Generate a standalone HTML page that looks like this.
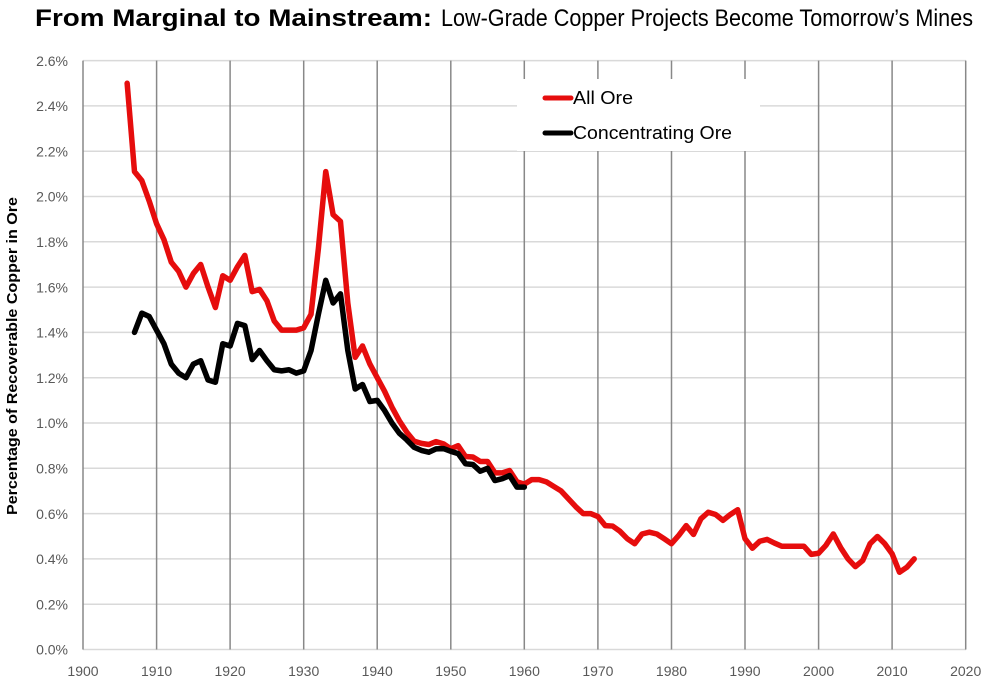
<!DOCTYPE html>
<html>
<head>
<meta charset="utf-8">
<style>
html,body{margin:0;padding:0;background:#fff;}
svg{display:block;}
text{font-family:"Liberation Sans",sans-serif;}
</style>
</head>
<body>
<svg width="986" height="682" viewBox="0 0 986 682" xmlns="http://www.w3.org/2000/svg">
<rect x="0" y="0" width="986" height="682" fill="#fff"/>
<!-- Title -->
<text x="35" y="26" font-size="24" font-weight="bold" fill="#000" textLength="397" lengthAdjust="spacingAndGlyphs">From Marginal to Mainstream:</text>
<text x="441" y="26" font-size="24" fill="#000" textLength="532" lengthAdjust="spacingAndGlyphs">Low-Grade Copper Projects Become Tomorrow’s Mines</text>

<!-- horizontal gridlines -->
<g stroke="#d9d9d9" stroke-width="1.5">
<line x1="83" y1="60.6" x2="966" y2="60.6"/>
<line x1="83" y1="105.9" x2="966" y2="105.9"/>
<line x1="83" y1="151.2" x2="966" y2="151.2"/>
<line x1="83" y1="196.5" x2="966" y2="196.5"/>
<line x1="83" y1="241.8" x2="966" y2="241.8"/>
<line x1="83" y1="287.1" x2="966" y2="287.1"/>
<line x1="83" y1="332.4" x2="966" y2="332.4"/>
<line x1="83" y1="377.7" x2="966" y2="377.7"/>
<line x1="83" y1="423" x2="966" y2="423"/>
<line x1="83" y1="468.3" x2="966" y2="468.3"/>
<line x1="83" y1="513.6" x2="966" y2="513.6"/>
<line x1="83" y1="558.9" x2="966" y2="558.9"/>
<line x1="83" y1="604.2" x2="966" y2="604.2"/>
<line x1="83" y1="649.5" x2="966" y2="649.5"/>
</g>
<!-- vertical gridlines -->
<g stroke="#888" stroke-width="1.5">
<line x1="83" y1="60.6" x2="83" y2="649.5"/>
<line x1="156.6" y1="60.6" x2="156.6" y2="649.5"/>
<line x1="230.1" y1="60.6" x2="230.1" y2="649.5"/>
<line x1="303.7" y1="60.6" x2="303.7" y2="649.5"/>
<line x1="377.2" y1="60.6" x2="377.2" y2="649.5"/>
<line x1="450.8" y1="60.6" x2="450.8" y2="649.5"/>
<line x1="524.3" y1="60.6" x2="524.3" y2="649.5"/>
<line x1="597.9" y1="60.6" x2="597.9" y2="649.5"/>
<line x1="671.5" y1="60.6" x2="671.5" y2="649.5"/>
<line x1="745" y1="60.6" x2="745" y2="649.5"/>
<line x1="818.6" y1="60.6" x2="818.6" y2="649.5"/>
<line x1="892.1" y1="60.6" x2="892.1" y2="649.5"/>
<line x1="965.7" y1="60.6" x2="965.7" y2="649.5"/>
</g>

<!-- Y tick labels -->
<g font-size="14" fill="#595959" text-anchor="end">
<text x="68" y="65.8">2.6%</text>
<text x="68" y="111.1">2.4%</text>
<text x="68" y="156.4">2.2%</text>
<text x="68" y="201.7">2.0%</text>
<text x="68" y="247">1.8%</text>
<text x="68" y="292.3">1.6%</text>
<text x="68" y="337.6">1.4%</text>
<text x="68" y="382.9">1.2%</text>
<text x="68" y="428.2">1.0%</text>
<text x="68" y="473.5">0.8%</text>
<text x="68" y="518.8">0.6%</text>
<text x="68" y="564.1">0.4%</text>
<text x="68" y="609.4">0.2%</text>
<text x="68" y="654.7">0.0%</text>
</g>
<!-- X tick labels -->
<g font-size="14" fill="#595959" text-anchor="middle">
<text x="83" y="676">1900</text>
<text x="156.6" y="676">1910</text>
<text x="230.1" y="676">1920</text>
<text x="303.7" y="676">1930</text>
<text x="377.2" y="676">1940</text>
<text x="450.8" y="676">1950</text>
<text x="524.3" y="676">1960</text>
<text x="597.9" y="676">1970</text>
<text x="671.5" y="676">1980</text>
<text x="745" y="676">1990</text>
<text x="818.6" y="676">2000</text>
<text x="892.1" y="676">2010</text>
<text x="965.7" y="676">2020</text>
</g>

<!-- Y axis title -->
<text transform="translate(17,356) rotate(-90)" font-size="15" font-weight="bold" fill="#000" text-anchor="middle" textLength="318" lengthAdjust="spacingAndGlyphs">Percentage of Recoverable Copper in Ore</text>

<!-- Series -->
<g transform="translate(83,649.5) scale(7.3558,-226.5) translate(-1900,0)">
<polyline fill="none" stroke="#e60d0d" stroke-width="5.5" stroke-linejoin="round" stroke-linecap="round" vector-effect="non-scaling-stroke" points="1906,2.50 1907,2.11 1908,2.07 1909,1.98 1910,1.88 1911,1.81 1912,1.71 1913,1.67 1914,1.60 1915,1.66 1916,1.70 1917,1.60 1918,1.51 1919,1.65 1920,1.63 1921,1.69 1922,1.74 1923,1.58 1924,1.59 1925,1.54 1926,1.45 1927,1.41 1928,1.41 1929,1.41 1930,1.42 1931,1.48 1932,1.77 1933,2.11 1934,1.92 1935,1.89 1936,1.53 1937,1.29 1938,1.34 1939,1.26 1940,1.20 1941,1.14 1942,1.07 1943,1.01 1944,0.96 1945,0.92 1946,0.91 1947,0.905 1948,0.918 1949,0.908 1950,0.886 1951,0.90 1952,0.852 1953,0.85 1954,0.83 1955,0.83 1956,0.78 1957,0.78 1958,0.79 1959,0.74 1960,0.73 1961,0.75 1962,0.75 1963,0.74 1964,0.72 1965,0.70 1966,0.665 1967,0.63 1968,0.60 1969,0.60 1970,0.587 1971,0.547 1972,0.545 1973,0.522 1974,0.489 1975,0.467 1976,0.51 1977,0.518 1978,0.51 1979,0.489 1980,0.467 1981,0.504 1982,0.547 1983,0.508 1984,0.577 1985,0.606 1986,0.596 1987,0.57 1988,0.596 1989,0.617 1990,0.489 1991,0.447 1992,0.478 1993,0.486 1994,0.47 1995,0.456 1996,0.456 1997,0.456 1998,0.456 1999,0.42 2000,0.425 2001,0.46 2002,0.51 2003,0.45 2004,0.40 2005,0.366 2006,0.393 2007,0.467 2008,0.499 2009,0.467 2010,0.422 2011,0.341 2012,0.363 2013,0.40"/>
<polyline fill="none" stroke="#000" stroke-width="5.5" stroke-linejoin="round" stroke-linecap="round" vector-effect="non-scaling-stroke" points="1907,1.40 1908,1.485 1909,1.47 1910,1.41 1911,1.35 1912,1.26 1913,1.22 1914,1.20 1915,1.26 1916,1.275 1917,1.19 1918,1.18 1919,1.35 1920,1.34 1921,1.44 1922,1.43 1923,1.28 1924,1.32 1925,1.275 1926,1.235 1927,1.23 1928,1.235 1929,1.22 1930,1.23 1931,1.32 1932,1.48 1933,1.63 1934,1.53 1935,1.57 1936,1.32 1937,1.15 1938,1.17 1939,1.095 1940,1.10 1941,1.055 1942,1.00 1943,0.955 1944,0.926 1945,0.893 1946,0.879 1947,0.871 1948,0.886 1949,0.887 1950,0.875 1951,0.865 1952,0.82 1953,0.817 1954,0.787 1955,0.80 1956,0.746 1957,0.754 1958,0.768 1959,0.717 1960,0.717"/>
</g>

<!-- Legend -->
<rect x="517" y="79" width="243" height="72" fill="#fff"/>
<line x1="545" y1="98" x2="571" y2="98" stroke="#e60d0d" stroke-width="5" stroke-linecap="round"/>
<text x="573" y="104" font-size="18" fill="#000" textLength="60" lengthAdjust="spacingAndGlyphs">All Ore</text>
<line x1="545" y1="133" x2="571" y2="133" stroke="#000" stroke-width="5" stroke-linecap="round"/>
<text x="573" y="139" font-size="18" fill="#000" textLength="159" lengthAdjust="spacingAndGlyphs">Concentrating Ore</text>
</svg>
</body>
</html>
